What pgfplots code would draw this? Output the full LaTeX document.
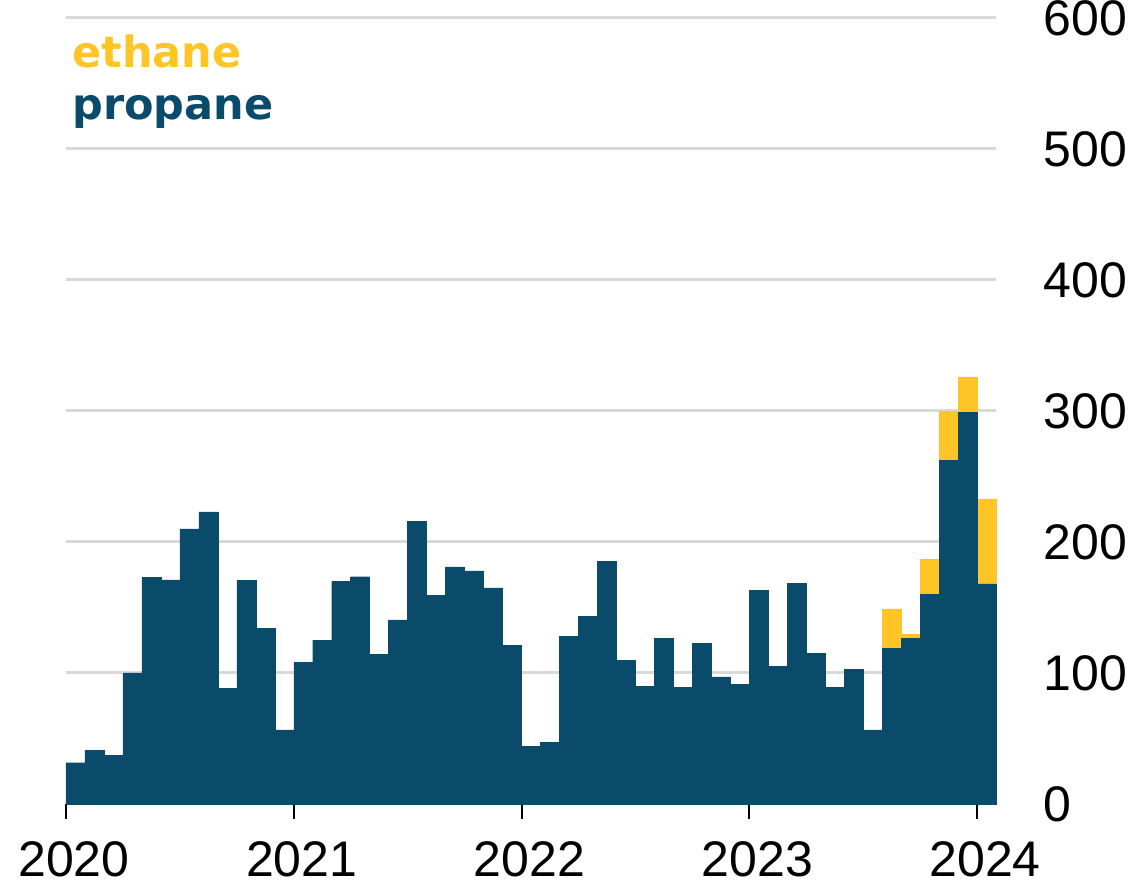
\documentclass[border=0pt]{standalone}
\usepackage{fontspec}
\setmainfont{Liberation Sans}
\newfontfamily\legendfont{DejaVu Sans}
\usepackage{pgfplots}
\usepackage{pgfplotstable}
\pgfplotsset{compat=1.18}

\definecolor{propane}{HTML}{0A4A6B}
\definecolor{ethane}{HTML}{FFC425}
\definecolor{gridgray}{HTML}{D9D9D9}

% month index (Jan 2020 = 0), bars centred at x+0.5
\pgfplotstableread{
x     propane ethane
0.5   31.5    0
1.5   41      0
2.5   37      0
3.5   100     0
4.5   173     0
5.5   171     0
6.5   210     0
7.5   223     0
8.5   88.5    0
9.5   170.5   0
10.5  134     0
11.5  56.5    0
12.5  108     0
13.5  125     0
14.5  170     0
15.5  173.5   0
16.5  114     0
17.5  140.5   0
18.5  216     0
19.5  159.5   0
20.5  181     0
21.5  178     0
22.5  165     0
23.5  121     0
24.5  44      0
25.5  47      0
26.5  128     0
27.5  143.5   0
28.5  185     0
29.5  109.5   0
30.5  90      0
31.5  126.5   0
32.5  89      0
33.5  122.5   0
34.5  97      0
35.5  91.5    0
36.5  163     0
37.5  105     0
38.5  168.5   0
39.5  115     0
40.5  89      0
41.5  103     0
42.5  56.5    0
43.5  119     30
44.5  126.5   3
45.5  160     27
46.5  262.5   37
47.5  299     27
48.5  168     65
}\exports

\begin{document}
\begin{tikzpicture}
\path[use as bounding box] (-33pt,-41pt) rectangle (539.5pt,402pt);
\begin{axis}[
  scale only axis,
  width=465pt, height=393pt,
  xmin=0, xmax=49,
  ymin=0, ymax=600,
  ybar stacked,
  bar width=1,
  axis x line=bottom,
  axis y line=right,
  x axis line style={-, black, line width=1.5pt},
  y axis line style={draw=none},
  xtick={0,12,24,36,48},
  xticklabels={2020,2021,2022,2023,2024},
  ytick={0,100,...,600},
  tick align=outside,
  major tick length=7.5pt,
  xtick style={black, line width=1pt},
  ytick style={draw=none},
  ymajorgrids,
  major grid style={gridgray, line width=1.5pt},
  tick label style={font=\fontsize{25}{25}\selectfont},
  /pgf/number format/assume math mode=true,
  xticklabel style={anchor=north, inner sep=0pt, yshift=-11pt, xshift=4pt},
  yticklabel style={anchor=west, inner sep=0pt, xshift=16pt},
  clip=false,
]
\addplot[fill=propane, draw=propane, line width=0.2pt] table[x=x, y=propane] {\exports};
\addplot[fill=ethane, draw=ethane, line width=0.2pt] table[x=x, y=ethane] {\exports};
\end{axis}
\node[anchor=base west, inner sep=0pt, text=ethane] at (3pt,368pt)
  {\legendfont\bfseries\fontsize{21.5}{21.5}\selectfont ethane};
\node[anchor=base west, inner sep=0pt, text=propane] at (3pt,342pt)
  {\legendfont\bfseries\fontsize{21.5}{21.5}\selectfont propane};
\end{tikzpicture}
\end{document}
